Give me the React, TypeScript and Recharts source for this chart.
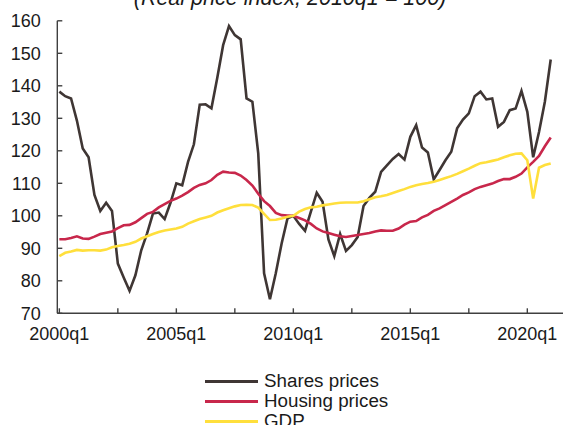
import { LineChart, Line, XAxis, YAxis } from "recharts";

// Quarterly data, 2000q1 .. 2021q1 (real price index, 2010q1 = 100)
const SHARES = [
  138.2, 136.8, 136.1, 129.3, 120.7, 118.0, 106.4, 101.5, 104.0, 101.5,
  85.3, 81.0, 76.9, 81.7, 89.4, 94.6, 100.7, 101.0, 99.0, 104.0,
  110.0, 109.4, 116.6, 122.0, 134.2, 134.3, 133.1, 142.5, 152.5, 158.4,
  155.6, 154.3, 136.1, 135.1, 119.2, 82.3, 74.3, 82.3, 91.5, 99.2,
  100.0, 97.5, 95.4, 101.3, 107.1, 104.3, 92.7, 87.6, 94.4, 89.2,
  91.0, 93.5, 103.0, 105.5, 107.4, 113.5, 115.5, 117.5, 119.0, 117.3,
  124.3, 127.9, 121.0, 119.5, 111.2, 114.1, 117.1, 119.7, 126.9, 129.6,
  131.5, 136.8, 138.2, 135.8, 136.1, 127.4, 128.9, 132.5, 133.0, 138.4,
  132.0, 118.0, 125.8, 135.1, 148.1,
];

const HOUSING = [
  92.8, 92.8, 93.2, 93.7, 93.0, 92.9, 93.6, 94.4, 94.8, 95.2,
  96.2, 97.1, 97.2, 98.0, 99.3, 100.6, 101.2, 102.6, 103.6, 104.6,
  105.3, 106.2, 107.3, 108.6, 109.5, 110.0, 111.0, 112.6, 113.6, 113.3,
  113.2, 112.4, 111.0, 109.3, 106.8, 104.5, 103.0, 100.9, 100.2, 100.1,
  100.0, 99.3, 98.6, 97.5, 96.1, 95.2, 94.7, 94.2, 93.7, 93.5,
  93.8, 94.1, 94.4, 94.7, 95.2, 95.5, 95.4, 95.4, 96.1, 97.3,
  98.2, 98.4, 99.5, 100.3, 101.5, 102.3, 103.3, 104.3, 105.3, 106.4,
  107.2, 108.2, 108.9, 109.4, 109.9, 110.7, 111.3, 111.3, 112.0, 113.0,
  114.9, 116.6, 118.4, 121.4, 124.1,
];

const GDP = [
  87.6, 88.6, 89.0, 89.5, 89.3, 89.4, 89.4, 89.3, 89.6, 90.3,
  90.7, 91.0, 91.4, 92.0, 93.0, 93.7, 94.4, 95.0, 95.5, 95.8,
  96.1, 96.6, 97.6, 98.3, 99.0, 99.5, 100.0, 101.0, 101.7, 102.3,
  102.9, 103.3, 103.4, 103.3, 102.5, 100.6, 98.7, 98.8, 99.2, 99.7,
  100.0, 101.3, 102.1, 102.6, 102.8, 103.2, 103.5, 103.8, 104.0, 104.1,
  104.1, 104.1, 104.5, 105.1, 105.7, 106.0, 106.4, 107.0, 107.6, 108.2,
  108.9, 109.4, 109.8, 110.1, 110.5, 111.0, 111.6, 112.2, 112.9, 113.7,
  114.5, 115.4, 116.2, 116.5, 116.9, 117.3, 118.0, 118.6, 119.1, 119.2,
  117.1, 105.3, 114.8, 115.6, 116.1,
];

const START_YEAR = 2000;
const X_TICKS = [0, 10, 20, 30, 40, 50, 60, 70, 80];
const X_LABELS: Record<number, string> = {
  0: "2000q1",
  20: "2005q1",
  40: "2010q1",
  60: "2015q1",
  80: "2020q1",
};
const Y_TICKS = [70, 80, 90, 100, 110, 120, 130, 140, 150, 160];

const SERIES = [
  { key: "shares", name: "Shares prices", color: "#3f3634" },
  { key: "housing", name: "Housing prices", color: "#c8274b" },
  { key: "gdp", name: "GDP", color: "#ffdf3c" },
];

const data = SHARES.map((v, i) => ({
  i,
  quarter: `${START_YEAR + Math.floor(i / 4)}q${(i % 4) + 1}`,
  shares: v,
  housing: HOUSING[i],
  gdp: GDP[i],
}));

const FONT = "'Liberation Sans', Arial, Helvetica, sans-serif";
const AXIS = "#404040";

export default function App() {
  return (
    <div style={{ position: "relative", width: 563, height: 425, overflow: "hidden", fontFamily: FONT, background: "#fff" }}>
      <style>{"body{margin:0}"}</style>
      <div
        style={{
          position: "absolute", left: 0, width: 580, top: -11.7, textAlign: "center",
          fontSize: 21.5, lineHeight: "21.5px", fontStyle: "italic", color: "#1a1a1a",
        }}
      >
        (Real price index, 2010q1 = 100)
      </div>
      <LineChart width={563} height={425} data={data} margin={{ top: 20.8, right: 0, left: 0, bottom: 81.7 }}>
        <XAxis
          dataKey="i"
          type="number"
          domain={[-0.35, 86.1]}
          ticks={X_TICKS}
          tickFormatter={(v: number) => X_LABELS[v] ?? ""}
          interval={0}
          height={30}
          tickSize={-5}
          tickMargin={19}
          stroke={AXIS}
          strokeWidth={1.4}
          tick={{ fontSize: 18, fill: "#1a1a1a", fontFamily: FONT }}
          allowDataOverflow
        />
        <YAxis
          domain={[70, 160]}
          ticks={Y_TICKS}
          interval={0}
          width={57.3}
          tickSize={-5}
          tickMargin={21.6}
          stroke={AXIS}
          strokeWidth={1.4}
          tick={{ fontSize: 18, fill: "#1a1a1a", fontFamily: FONT }}
        />
        {SERIES.map((s) => (
          <Line
            key={s.key}
            type="linear"
            dataKey={s.key}
            name={s.name}
            stroke={s.color}
            strokeWidth={2.6}
            dot={false}
            isAnimationActive={false}
          />
        ))}
      </LineChart>
      <div style={{ position: "absolute", left: 205, top: 371 }}>
        {SERIES.map((s) => (
          <div key={s.key} style={{ display: "flex", alignItems: "center", height: 20 }}>
            <span style={{ display: "inline-block", width: 53, height: 3, background: s.color, marginRight: 6 }} />
            <span style={{ fontSize: 18.8, lineHeight: "20px", color: "#1a1a1a" }}>{s.name}</span>
          </div>
        ))}
      </div>
    </div>
  );
}
